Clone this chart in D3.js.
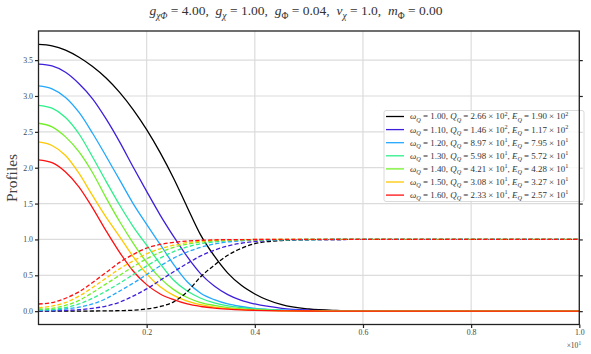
<!DOCTYPE html>
<html>
<head>
<meta charset="utf-8">
<script src="https://cdn.jsdelivr.net/npm/d3@7"></script>
<style>
body { margin: 0; background: #fff; }
text { font-family: "Liberation Serif", "DejaVu Serif", serif; }
</style>
</head>
<body>
<svg id="chart" width="591" height="354"></svg>
<script>
// radius grid (in units of 10^0, axis shows x10^1)
var rGrid = [0, 0.25, 0.5, 0.75, 1, 1.25, 1.5, 1.75, 2, 2.25, 2.5, 2.75, 3, 3.25, 3.5, 3.75, 4, 4.5, 5, 5.5, 6, 7, 8, 10];

// solid profiles
var solid_100 = [3.72, 3.70, 3.64, 3.54, 3.41, 3.25, 3.05, 2.81, 2.53, 2.21, 1.85, 1.45, 1.06, 0.77, 0.53, 0.36, 0.24, 0.09, 0.03, 0.01, 0.004, 0.001, 0, 0];
var solid_110 = [3.445, 3.42, 3.33, 3.17, 2.96, 2.68, 2.36, 2.01, 1.67, 1.34, 1.04, 0.76, 0.52, 0.35, 0.23, 0.15, 0.10, 0.04, 0.015, 0.006, 0.002, 0, 0, 0];
var solid_120 = [3.14, 3.10, 2.98, 2.77, 2.48, 2.16, 1.83, 1.50, 1.21, 0.93, 0.65, 0.41, 0.25, 0.16, 0.10, 0.065, 0.04, 0.016, 0.006, 0.002, 0.001, 0, 0, 0];
var solid_130 = [2.87, 2.83, 2.70, 2.47, 2.15, 1.81, 1.48, 1.18, 0.92, 0.66, 0.43, 0.28, 0.18, 0.115, 0.075, 0.05, 0.03, 0.012, 0.004, 0.001, 0, 0, 0, 0];
var solid_140 = [2.62, 2.57, 2.43, 2.22, 1.93, 1.58, 1.25, 0.95, 0.68, 0.46, 0.30, 0.19, 0.12, 0.08, 0.05, 0.033, 0.02, 0.008, 0.003, 0.001, 0, 0, 0, 0];
var solid_150 = [2.36, 2.31, 2.17, 1.92, 1.61, 1.31, 1.04, 0.76, 0.52, 0.34, 0.22, 0.14, 0.09, 0.057, 0.036, 0.023, 0.015, 0.006, 0.002, 0.001, 0, 0, 0, 0];
var solid_160 = [2.11, 2.07, 1.94, 1.73, 1.44, 1.12, 0.82, 0.56, 0.37, 0.24, 0.16, 0.10, 0.065, 0.042, 0.028, 0.018, 0.012, 0.005, 0.002, 0.001, 0, 0, 0, 0];

// dashed profiles
var dashed_100 = [0, 0, 0, 0.001, 0.002, 0.004, 0.007, 0.013, 0.03, 0.065, 0.13, 0.27, 0.48, 0.64, 0.78, 0.875, 0.94, 0.985, 0.996, 0.999, 1, 1, 1, 1];
var dashed_110 = [0.005, 0.006, 0.01, 0.02, 0.04, 0.07, 0.125, 0.21, 0.31, 0.43, 0.55, 0.665, 0.77, 0.85, 0.91, 0.947, 0.97, 0.992, 0.998, 0.999, 1, 1, 1, 1];
var dashed_120 = [0.01, 0.016, 0.03, 0.056, 0.10, 0.175, 0.28, 0.39, 0.51, 0.63, 0.74, 0.825, 0.89, 0.937, 0.965, 0.981, 0.99, 0.997, 0.999, 1, 1, 1, 1, 1];
var dashed_130 = [0.02, 0.025, 0.05, 0.10, 0.18, 0.28, 0.39, 0.51, 0.63, 0.74, 0.83, 0.895, 0.94, 0.965, 0.981, 0.99, 0.994, 0.998, 0.999, 1, 1, 1, 1, 1];
var dashed_140 = [0.03, 0.04, 0.08, 0.15, 0.26, 0.38, 0.50, 0.62, 0.73, 0.82, 0.89, 0.935, 0.963, 0.98, 0.99, 0.995, 0.997, 0.999, 1, 1, 1, 1, 1, 1];
var dashed_150 = [0.05, 0.07, 0.12, 0.21, 0.33, 0.46, 0.59, 0.70, 0.80, 0.87, 0.92, 0.955, 0.976, 0.988, 0.994, 0.997, 0.999, 1, 1, 1, 1, 1, 1, 1];
var dashed_160 = [0.10, 0.12, 0.18, 0.27, 0.40, 0.54, 0.68, 0.79, 0.88, 0.93, 0.96, 0.978, 0.988, 0.994, 0.997, 0.998, 0.999, 1, 1, 1, 1, 1, 1, 1];

// legend values
var omegaVals = [1.00, 1.10, 1.20, 1.30, 1.40, 1.50, 1.60];
var qMant = [2.66, 1.46, 8.97, 5.98, 4.21, 3.08, 2.33];
var qExp = [2, 2, 1, 1, 1, 1, 1];
var eMant = [1.90, 1.17, 7.95, 5.72, 4.28, 3.27, 2.57];
var eExp = [2, 2, 1, 1, 1, 1, 1];
var colors = ["#000000", "#3f1fdc", "#22a8ff", "#2cf08a", "#74f02a", "#ffc800", "#ff1010"];

var xTicks = [2, 4, 6, 8, 10];
var xTickLabels = ["0.2", "0.4", "0.6", "0.8", "1.0"];
var yTicks = [0, 0.5, 1, 1.5, 2, 2.5, 3, 3.5];

var solids = [solid_100, solid_110, solid_120, solid_130, solid_140, solid_150, solid_160];
var dashes = [dashed_100, dashed_110, dashed_120, dashed_130, dashed_140, dashed_150, dashed_160];

var margin = {left: 38.5, right: 579.3, top: 31, bottom: 324.5};

var svg = d3.select("#chart");

var x = d3.scaleLinear().domain([0, 10]).range([margin.left, margin.right]);
var y = d3.scaleLinear().domain([-0.186, 3.906]).range([margin.bottom, margin.top]);

function mathText(sel, parts, fs) {
    var off = 0;
    parts.forEach(function(p) {
        var target = p.sub ? fs * 0.28 : (p.sup ? -fs * 0.42 : 0);
        var t = sel.append("tspan").attr("dy", target - off).text(p.t);
        off = target;
        if (p.i) t.style("font-style", "italic");
        if (p.sub || p.sup) t.style("font-size", (fs * 0.7) + "px");
    });
}

// grid
svg.append("g").selectAll("line.gy")
    .data(yTicks)
    .enter().append("line")
    .attr("x1", margin.left).attr("x2", margin.right)
    .attr("y1", function(d) { return y(d); })
    .attr("y2", function(d) { return y(d); })
    .style("stroke", "#dcdcdc").style("stroke-width", 1.2);

svg.append("g").selectAll("line.gx")
    .data(xTicks)
    .enter().append("line")
    .attr("y1", margin.top).attr("y2", margin.bottom)
    .attr("x1", function(d) { return x(d); })
    .attr("x2", function(d) { return x(d); })
    .style("stroke", "#dcdcdc").style("stroke-width", 1.2);

svg.append("clipPath").attr("id", "clip")
    .append("rect")
    .attr("x", margin.left).attr("y", margin.top)
    .attr("width", margin.right - margin.left)
    .attr("height", margin.bottom - margin.top);

var line = d3.line()
    .x(function(d) { return x(d[0]); })
    .y(function(d) { return y(d[1]); })
    .curve(d3.curveMonotoneX);

var plot = svg.append("g").attr("clip-path", "url(#clip)");

solids.forEach(function(vals, i) {
    plot.append("path")
        .datum(rGrid.map(function(r, k) { return [r, vals[k]]; }))
        .attr("d", line)
        .style("fill", "none")
        .style("stroke", colors[i])
        .style("stroke-width", 1.3);
});

dashes.forEach(function(vals, i) {
    plot.append("path")
        .datum(rGrid.map(function(r, k) { return [r, vals[k]]; }))
        .attr("d", line)
        .style("fill", "none")
        .style("stroke", colors[i])
        .style("stroke-width", 1.3)
        .style("stroke-dasharray", "4.2,2.2");
});

// axes
var xAxis = svg.append("g")
    .attr("transform", "translate(0," + margin.bottom + ")")
    .call(d3.axisBottom(x).tickValues(xTicks).tickSize(3.5)
        .tickFormat(function(d, i) { return xTickLabels[i]; }));
var yAxis = svg.append("g")
    .attr("transform", "translate(" + margin.left + ",0)")
    .call(d3.axisLeft(y).tickValues(yTicks).tickSize(3.5).tickFormat(d3.format(".1f")));
var yAxisR = svg.append("g")
    .attr("transform", "translate(" + margin.right + ",0)")
    .call(d3.axisRight(y).tickValues(yTicks).tickSize(3.5).tickFormat(""));

[xAxis, yAxis, yAxisR].forEach(function(a) {
    a.select(".domain").remove();
    a.selectAll(".tick line").style("stroke", "#222").style("stroke-width", 1.2);
    a.selectAll(".tick text")
        .style("font-family", "'Liberation Serif', serif")
        .style("font-size", "7.8px")
        .style("fill", "#444");
});
xAxis.selectAll(".tick text").attr("y", 5).attr("dy", "0.71em");
yAxis.selectAll(".tick text").attr("x", -5.5);

// legend
var lg = svg.append("g");
lg.append("rect")
    .attr("x", 384).attr("y", 110.5)
    .attr("width", 200).attr("height", 91)
    .attr("rx", 2)
    .style("fill", "#fff").style("fill-opacity", 0.82)
    .style("stroke", "#d0d0d0").style("stroke-width", 0.8);

omegaVals.forEach(function(w, i) {
    var yy = 116.5 + i * 13.1;
    lg.append("line")
        .attr("x1", 386).attr("x2", 404)
        .attr("y1", yy).attr("y2", yy)
        .style("stroke", colors[i]).style("stroke-width", 1.3);
    var t = lg.append("text")
        .attr("x", 410).attr("y", yy + 2.9)
        .style("font-size", "8.9px")
        .style("fill", "#333")
        .style("white-space", "pre");
    mathText(t, [
        {t: "\u03c9", i: true}, {t: "Q", i: true, sub: true},
        {t: " = " + w.toFixed(2) + ", "},
        {t: "Q", i: true}, {t: "Q", i: true, sub: true},
        {t: " = " + qMant[i].toFixed(2) + " \u00d7 10"}, {t: String(qExp[i]), sup: true},
        {t: ", "},
        {t: "E", i: true}, {t: "Q", i: true, sub: true},
        {t: " = " + eMant[i].toFixed(2) + " \u00d7 10"}, {t: String(eExp[i]), sup: true}
    ], 8.9);
});

// spines on top
svg.append("rect")
    .attr("x", margin.left).attr("y", margin.top)
    .attr("width", margin.right - margin.left)
    .attr("height", margin.bottom - margin.top)
    .style("fill", "none").style("stroke", "#222").style("stroke-width", 1.3);

// offset label
var off = svg.append("text")
    .attr("x", 581).attr("y", 348)
    .attr("text-anchor", "end")
    .style("font-size", "7.5px").style("fill", "#444");
mathText(off, [{t: "\u00d710"}, {t: "1", sup: true}], 7.5);

// title
var title = svg.append("text")
    .attr("x", 296).attr("y", 15)
    .attr("text-anchor", "middle")
    .style("font-size", "13.5px").style("fill", "#333")
    .style("white-space", "pre");
mathText(title, [
    {t: "g", i: true}, {t: "\u03c7\u03a6", i: true, sub: true}, {t: " = 4.00,  "},
    {t: "g", i: true}, {t: "\u03c7", i: true, sub: true}, {t: " = 1.00,  "},
    {t: "g", i: true}, {t: "\u03a6", sub: true}, {t: " = 0.04,  "},
    {t: "v", i: true}, {t: "\u03c7", i: true, sub: true}, {t: " = 1.0,  "},
    {t: "m", i: true}, {t: "\u03a6", sub: true}, {t: " = 0.00"}
], 13.5);

// y label
svg.append("text")
    .attr("transform", "translate(17,178) rotate(-90)")
    .attr("text-anchor", "middle")
    .style("font-size", "15.5px").style("fill", "#444")
    .text("Profiles");
</script>
</body>
</html>
